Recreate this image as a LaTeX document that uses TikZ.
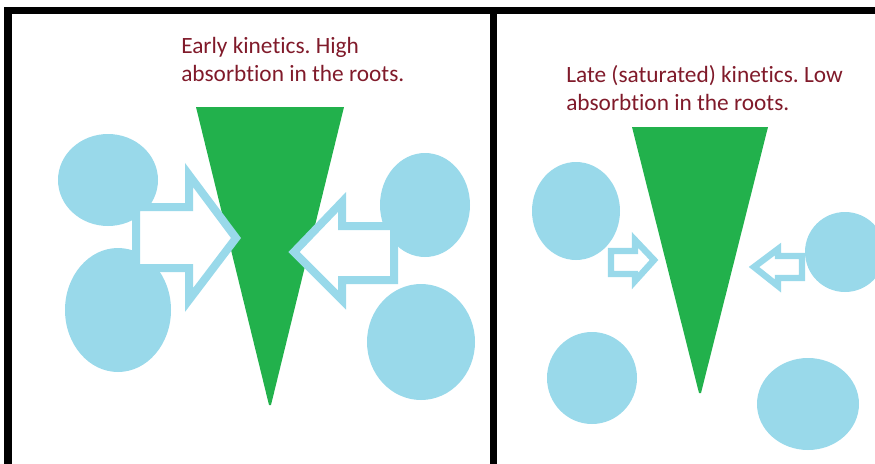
\documentclass[tikz,border=0pt]{standalone}
\usepackage{fontspec}
\setmainfont{Carlito}[RawFeature={-liga,-dlig,-clig}]
\frenchspacing
\definecolor{leaf}{RGB}{34,177,76}
\definecolor{soil}{RGB}{153,217,234}
\definecolor{label}{RGB}{128,26,42}
\tikzset{
  particle/.style={fill=soil, draw=none},
  root/.style={fill=leaf, draw=none},
  bigflux/.style={draw=soil, fill=white, line width=6pt, line join=miter},
  smallflux/.style={draw=soil, fill=white, line width=4.8pt, line join=miter},
  caption/.style={text=label, font=\fontsize{17.5}{21}\selectfont\frenchspacing, align=left, inner sep=0pt, anchor=north west},
  frame/.style={fill=black, draw=none}
}
\begin{document}
\begin{tikzpicture}[x=0.75pt, y=-0.75pt]
\useasboundingbox (0,0) rectangle (875,464);
% left panel
\fill[particle] (108,180) ellipse [x radius=50, y radius=46];
\fill[particle] (118,310) ellipse [x radius=53, y radius=62];
\fill[particle] (425,205) ellipse [x radius=45, y radius=52];
\fill[particle] (421,342) ellipse [x radius=54, y radius=58];
\fill[root] (196,107) -- (344,107) -- (271,405) -- (269,405) -- cycle;
\node[caption] (t1) at (181,37) {Early kinetics. High\\absorbtion in the roots.};
\draw[bigflux] (136,207) -- (189,207) -- (189,175) -- (236,238) -- (189,300) -- (189,268) -- (136,268) -- cycle;
\draw[bigflux] (394,226) -- (342,226) -- (342,202) -- (294,252) -- (342,300) -- (342,280) -- (394,280) -- cycle;
% right panel
\fill[particle] (576,211) ellipse [x radius=44, y radius=49];
\fill[particle] (845,252) ellipse [x radius=40, y radius=40];
\fill[particle] (592,378) ellipse [x radius=45, y radius=46];
\fill[particle] (808,404) ellipse [x radius=51, y radius=46];
\fill[root] (632,127) -- (768,127) -- (701,393) -- (699,393) -- cycle;
\node[caption] (t2) at (566,65) {Late (saturated) kinetics. Low\\absorbtion in the roots.};
\draw[smallflux] (611,251) -- (635,251) -- (635,240) -- (654,260) -- (635,281) -- (635,274) -- (611,274) -- cycle;
\draw[smallflux] (802,256) -- (778,256) -- (778,249) -- (754,267) -- (778,286) -- (778,278) -- (802,278) -- cycle;
% frames
\fill[frame] (4,7) rectangle (875,14);
\fill[frame] (4,7) rectangle (12,464);
\fill[frame] (490,7) rectangle (497,464);
\end{tikzpicture}
\end{document}
